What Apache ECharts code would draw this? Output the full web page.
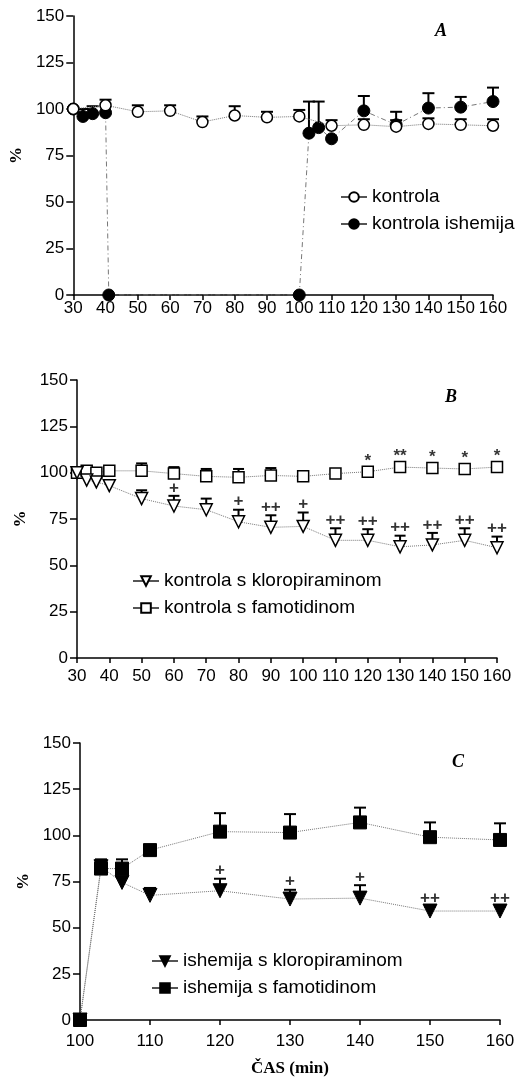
<!DOCTYPE html>
<html>
<head>
<meta charset="utf-8">
<script src="https://cdn.jsdelivr.net/npm/echarts@6/dist/echarts.min.js"></script>
<style>
  html, body { margin: 0; padding: 0; background: #fff; }
  #chart { width: 519px; height: 1078px; }
</style>
</head>
<body>
<div id="chart"></div>
<script>
// panel A
const timeA = [30, 40, 50, 60, 70, 80, 90, 100, 110, 120, 130, 140, 150, 160];
const kontrola = [100, 102, 98.5, 99, 93, 96.5, 95.5, 96, 91, 91.5, 90.5, 92, 91.5, 91];
const kontrolaSd = [0, 3, 3.5, 3, 3, 5, 3, 3.5, 3, 3, 3.5, 3, 3, 3.5];
const timeAish = [30, 33, 36, 40, 41, 100, 103, 106, 110, 120, 130, 140, 150, 160];
const kontrolaIsh = [100, 96, 97.5, 98, 0, 0, 87, 90, 84, 99, 91.5, 100.5, 101, 104];
const kontrolaIshSd = [0, 4, 4, 0, 0, 0, 17, 14, 0, 8, 7, 8, 5.5, 7.5];

// panel B
const timeB = [30, 33, 36, 40, 50, 60, 70, 80, 90, 100, 110, 120, 130, 140, 150, 160];
const kloro = [100, 96, 95, 93, 86, 82, 80, 73.5, 70.5, 71, 63.5, 63.5, 60, 61, 63.5, 59.5];
const kloroSd = [0, 2, 2, 3, 4.5, 5.5, 6, 6.5, 6.5, 7.5, 6.5, 6, 6, 6.5, 6.5, 6];
const kloroMarks = ['', '', '', '', '', '+', '', '+', '++', '+', '++', '++', '++', '++', '++', '++'];
const famo = [100, 101, 100, 101, 101, 99.5, 98, 97.5, 98.5, 98, 99.5, 100.5, 103, 102.5, 102, 103];
const famoSd = [0, 1, 1, 1, 4, 3.5, 4, 4.5, 4, 2, 2, 1.5, 1.5, 1.5, 1.5, 1.5];
const famoMarks = ['', '', '', '', '', '', '', '', '', '', '', '*', '**', '*', '*', '*'];

// panel C
const timeC = [100, 103, 106, 110, 120, 130, 140, 150, 160];
const ishKloro = [0, 83, 74.5, 67.5, 70, 65.5, 66, 59, 59];
const ishKloroSd = [0, 3, 3, 4, 6.5, 5, 7, 2.5, 2.5];
const ishKloroMarks = ['', '', '', '', '+', '+', '+', '++', '++'];
const ishFamo = [0, 82, 82, 92, 102, 101.5, 107, 99, 97.5];
const ishFamoSd = [0, 5, 5, 0, 10, 10, 8, 8, 9];

const yTicks = [0, 25, 50, 75, 100, 125, 150];

const chart = echarts.init(document.getElementById('chart'));

const sans = 'Liberation Sans';
const serif = 'Liberation Serif';

function pairs(xs, ys) {
  return xs.map((x, i) => [x, ys[i]]);
}

function errBars(xs, ys, sd, idx, capW) {
  return {
    type: 'custom',
    xAxisIndex: idx,
    yAxisIndex: idx,
    z: 2,
    silent: true,
    encode: { x: 0, y: [1, 2] },
    data: xs.map((x, i) => [x, ys[i], ys[i] + sd[i]]).filter(d => d[2] > d[1]),
    renderItem: function (params, api) {
      const p0 = api.coord([api.value(0), api.value(1)]);
      const p1 = api.coord([api.value(0), api.value(2)]);
      const st = { stroke: '#000', lineWidth: 2 };
      return {
        type: 'group',
        children: [
          { type: 'line', shape: { x1: p0[0], y1: p0[1], x2: p1[0], y2: p1[1] }, style: st },
          { type: 'line', shape: { x1: p1[0] - capW / 2, y1: p1[1], x2: p1[0] + capW / 2, y2: p1[1] }, style: st }
        ]
      };
    }
  };
}

function marks(xs, ys, sd, txt, idx) {
  return {
    type: 'scatter',
    xAxisIndex: idx,
    yAxisIndex: idx,
    z: 6,
    silent: true,
    symbolSize: 1,
    itemStyle: { color: 'rgba(0,0,0,0)' },
    data: xs.map((x, i) => [x, ys[i] + sd[i], txt[i]]).filter(d => d[2]),
    label: {
      show: true,
      position: 'top',
      distance: -1,
      formatter: p => p.value[2],
      color: '#000',
      fontFamily: sans,
      fontSize: 17,
      fontWeight: 'bold'
    }
  };
}

function lineSeries(name, xs, ys, idx, opt) {
  return Object.assign({
    name: name,
    type: 'line',
    xAxisIndex: idx,
    yAxisIndex: idx,
    z: 4,
    data: pairs(xs, ys),
    showAllSymbol: true,
    lineStyle: { color: '#777', width: 1, type: 'dotted' }
  }, opt);
}

const openSym = { color: '#fff', borderColor: '#000', borderWidth: 1.5 };
const fillSym = { color: '#000', borderColor: '#000', borderWidth: 1 };

function xAx(idx, min, max, margin, extra) {
  return Object.assign({
    type: 'value',
    gridIndex: idx,
    min: min,
    max: max,
    interval: 10,
    splitLine: { show: false },
    axisLine: { lineStyle: { color: '#000', width: 1.5 } },
    axisTick: { length: 5, lineStyle: { color: '#000', width: 1.5 } },
    axisLabel: { color: '#000', fontFamily: sans, fontSize: 17, margin: margin }
  }, extra);
}

function yAx(idx) {
  return {
    type: 'value',
    gridIndex: idx,
    min: 0,
    max: 150,
    interval: 25,
    name: '%',
    nameLocation: 'middle',
    nameGap: 44,
    nameTextStyle: { color: '#000', fontFamily: serif, fontWeight: 'bold', fontSize: 17 },
    splitLine: { show: false },
    axisLine: { show: true, lineStyle: { color: '#000', width: 1.5 } },
    axisTick: { show: true, length: 7, lineStyle: { color: '#000', width: 1.5 } },
    axisLabel: { color: '#000', fontFamily: sans, fontSize: 17, margin: 9, formatter: v => yTicks.indexOf(v) >= 0 ? v : '' }
  };
}

function legendAt(names, left, top) {
  return {
    data: names,
    orient: 'vertical',
    left: left,
    top: top,
    itemWidth: 26,
    itemHeight: 12,
    itemGap: 7,
    selectedMode: false,
    lineStyle: { type: 'solid', color: '#555' },
    textStyle: { color: '#000', fontFamily: sans, fontSize: 19, lineHeight: 20 }
  };
}

function letter(t, left, top) {
  return {
    text: t,
    left: left,
    top: top,
    textStyle: { color: '#000', fontFamily: serif, fontStyle: 'italic', fontWeight: 'bold', fontSize: 18 }
  };
}

chart.setOption({
  animation: false,
  backgroundColor: '#fff',
  title: [letter('A', 430, 17), letter('B', 440, 383), letter('C', 447, 748)],
  grid: [
    { left: 73, top: 16, width: 420, height: 279 },
    { left: 77, top: 380, width: 420, height: 278 },
    { left: 80, top: 743, width: 420, height: 278 }
  ],
  legend: [
    legendAt(['kontrola', 'kontrola ishemija'], 335, 182),
    legendAt(['kontrola s kloropiraminom', 'kontrola s famotidinom'], 127, 566),
    legendAt(['ishemija s kloropiraminom', 'ishemija s famotidinom'], 146, 946)
  ],
  xAxis: [
    xAx(0, 30, 160, 5),
    xAx(1, 30, 160, 10),
    xAx(2, 100, 160, 13, {
      name: 'ČAS (min)',
      nameLocation: 'middle',
      nameGap: 40,
      nameTextStyle: { color: '#000', fontFamily: serif, fontWeight: 'bold', fontSize: 17 }
    })
  ],
  yAxis: [yAx(0), yAx(1), yAx(2)],
  series: [
    // A
    errBars(timeAish, kontrolaIsh, kontrolaIshSd, 0, 12),
    lineSeries('kontrola ishemija', timeAish, kontrolaIsh, 0, {
      symbol: 'circle', symbolSize: 12, itemStyle: fillSym,
      lineStyle: { color: '#777', width: 1, type: [5, 3, 1, 3] }
    }),
    errBars(timeA, kontrola, kontrolaSd, 0, 12),
    lineSeries('kontrola', timeA, kontrola, 0, {
      z: 5, symbol: 'circle', symbolSize: 11, itemStyle: openSym
    }),
    // B
    errBars(timeB, famo, famoSd, 1, 11),
    lineSeries('kontrola s famotidinom', timeB, famo, 1, {
      symbol: 'rect', symbolSize: 11, itemStyle: openSym
    }),
    errBars(timeB, kloro, kloroSd, 1, 11),
    lineSeries('kontrola s kloropiraminom', timeB, kloro, 1, {
      symbol: 'triangle', symbolRotate: 180, symbolSize: 12, itemStyle: openSym
    }),
    marks(timeB, kloro, kloroSd, kloroMarks, 1),
    marks(timeB, famo, famoSd, famoMarks, 1),
    // C
    errBars(timeC, ishFamo, ishFamoSd, 2, 12),
    lineSeries('ishemija s famotidinom', timeC, ishFamo, 2, {
      symbol: 'rect', symbolSize: 13, itemStyle: fillSym
    }),
    errBars(timeC, ishKloro, ishKloroSd, 2, 12),
    lineSeries('ishemija s kloropiraminom', timeC, ishKloro, 2, {
      symbol: 'triangle', symbolRotate: 180, symbolSize: 14, itemStyle: fillSym
    }),
    marks(timeC, ishKloro, ishKloroSd, ishKloroMarks, 2)
  ]
});
</script>
</body>
</html>
